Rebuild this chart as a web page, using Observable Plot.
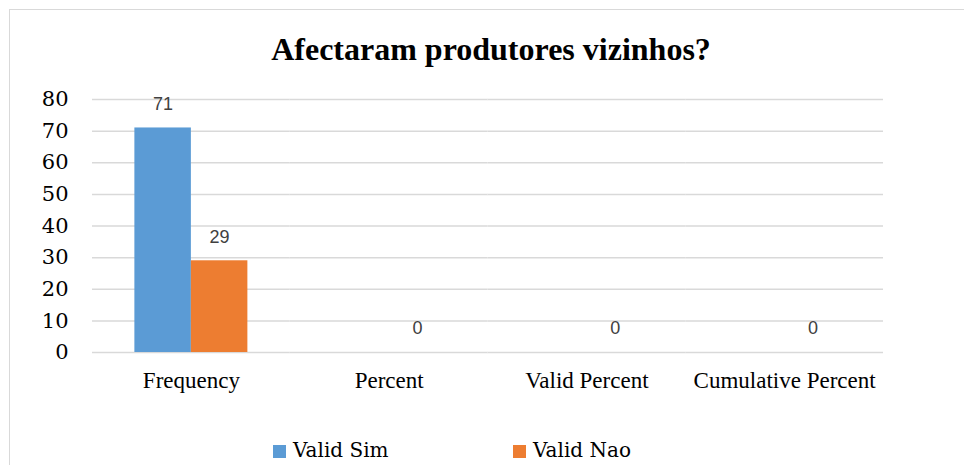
<!DOCTYPE html>
<html>
<head>
<meta charset="utf-8">
<script src="https://cdn.jsdelivr.net/npm/d3@7"></script>
<script src="https://cdn.jsdelivr.net/npm/@observablehq/plot@0.6"></script>
<style>
  html, body { margin: 0; padding: 0; background: #fff; }
  #wrap { position: relative; width: 964px; height: 465px; overflow: hidden; background: #fff; }
  #frame { position: absolute; left: 9px; top: 9px; width: 1000px; height: 500px; border: 1.5px solid #d9d9d9; box-sizing: border-box; }
  #title { position: absolute; left: 0; width: 982px; top: 33px; text-align: center; font-family: "Liberation Serif", "Times New Roman", serif; font-weight: bold; font-size: 32px; line-height: 1; color: #000; }
  #chart { position: absolute; left: 0; top: 0; }
  .leg { position: absolute; top: 440px; font-family: "DejaVu Serif", serif; font-size: 20px; line-height: 1; color: #000; white-space: nowrap; }
  .sw { position: absolute; width: 13px; height: 13px; top: 445px; }
  #chart svg [aria-label^="y-axis"] text { font-family: "DejaVu Serif", serif; font-size: 21px; font-variant: normal; fill: #000; }
  #chart svg [aria-label^="fx-axis"] text { font-family: "Liberation Serif", "Times New Roman", serif; font-size: 23px; fill: #000; }
</style>
</head>
<body>
<div id="wrap">
  <div id="frame"></div>
  <div id="chart"></div>
  <div id="title"></div>
  <div id="legend"></div>
</div>
<script>
const titleText = "Afectaram produtores vizinhos?";
const categories = ["Frequency", "Percent", "Valid Percent", "Cumulative Percent"];
const series = ["Valid Sim", "Valid Nao"];
const colors = ["#5B9BD5", "#ED7D31"];
const simValues = [71, null, null, null];
const naoValues = [29, 0, 0, 0];
const yTicks = [0, 10, 20, 30, 40, 50, 60, 70, 80];

const seriesValues = [simValues, naoValues];
const data = categories.flatMap((c, i) =>
  series.map((s, j) => ({category: c, series: s, value: seriesValues[j][i]}))
);

document.getElementById("title").textContent = titleText;

const chart = Plot.plot({
  width: 964,
  height: 465,
  marginLeft: 92,
  marginRight: 81,
  marginTop: 99,
  marginBottom: 113,
  style: {background: "transparent", overflow: "visible"},
  facet: {data: data, x: "category"},
  fx: {domain: categories, padding: 0, round: false, axis: "bottom", label: null, tickSize: 0, tickPadding: 19},
  x: {domain: series, paddingInner: 0, paddingOuter: 0.75, round: false, axis: null},
  y: {domain: [0, 80], ticks: yTicks, tickSize: 0, tickPadding: 24, label: null, tickFormat: d => String(d)},
  color: {domain: series, range: colors},
  marks: [
    Plot.ruleY(yTicks, {stroke: "#d9d9d9", strokeWidth: 1.5}),
    Plot.barY(data, {x: "series", y: "value", fill: "series", filter: d => d.value != null}),
    Plot.text(data, {x: "series", y: "value", text: d => String(d.value), filter: d => d.value != null,
      dy: -24, fill: "#404040", fontSize: 18, fontFamily: "Liberation Sans, sans-serif"})
  ]
});
document.getElementById("chart").appendChild(chart);

const legend = document.getElementById("legend");
const legX = [273, 513];
series.forEach((s, i) => {
  const sw = document.createElement("div");
  sw.className = "sw";
  sw.style.left = legX[i] + "px";
  sw.style.background = colors[i];
  legend.appendChild(sw);
  const t = document.createElement("div");
  t.className = "leg";
  t.style.left = (legX[i] + 20) + "px";
  t.textContent = s;
  legend.appendChild(t);
});
</script>
</body>
</html>
